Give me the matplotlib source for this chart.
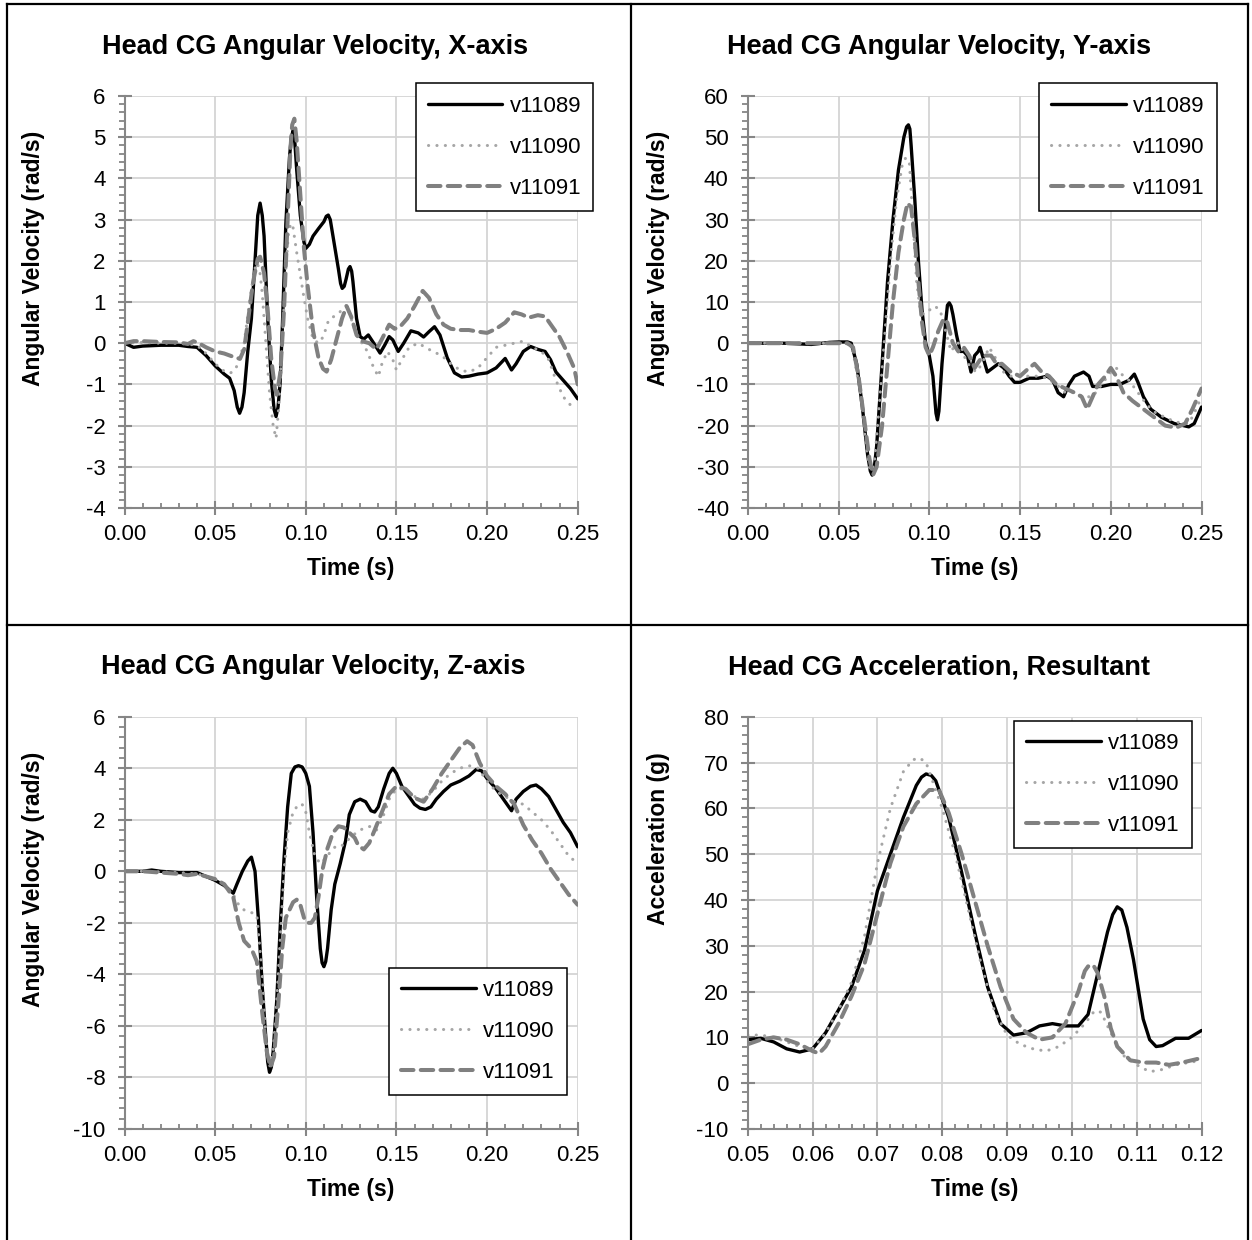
import matplotlib
matplotlib.use('Agg')
import matplotlib.pyplot as plt
from matplotlib.lines import Line2D
from matplotlib.ticker import MultipleLocator, FormatStrFormatter

plt.rcParams['font.family'] = ['Liberation Sans', 'DejaVu Sans']

# ---- data (time s, value) ----
x_v11089 = [(0, 0), (0.005, -0.1), (0.01, -0.07), (0.02, -0.05), (0.03, -0.05), (0.035, -0.08), (0.04, -0.1),
            (0.045, -0.3), (0.05, -0.55), (0.055, -0.75), (0.058, -0.85), (0.0605, -1.15), (0.0622, -1.55),
            (0.0635, -1.7), (0.0648, -1.55), (0.066, -1.2), (0.068, -0.2), (0.070, 0.6), (0.072, 2.0),
            (0.0735, 3.1), (0.0748, 3.4), (0.076, 3.1), (0.077, 2.6), (0.079, 0.6), (0.081, -0.9),
            (0.0825, -1.6), (0.0836, -1.78), (0.0847, -1.55), (0.0858, -1.0), (0.087, 0.3), (0.089, 2.9),
            (0.091, 4.5), (0.092, 5.0), (0.0931, 5.17), (0.094, 4.85), (0.095, 4.2), (0.097, 3.1), (0.099, 2.45),
            (0.1, 2.3), (0.102, 2.4), (0.104, 2.6), (0.107, 2.78), (0.110, 2.95), (0.1113, 3.08), (0.1124, 3.11),
            (0.1135, 3.0), (0.115, 2.6), (0.118, 1.8), (0.1192, 1.45), (0.1201, 1.33), (0.1212, 1.38),
            (0.1222, 1.55), (0.1235, 1.8), (0.1244, 1.86), (0.1253, 1.75), (0.126, 1.5), (0.128, 0.6),
            (0.130, 0.16), (0.132, 0.1), (0.1345, 0.2), (0.1375, 0.0), (0.141, -0.24), (0.1435, -0.05),
            (0.146, 0.16), (0.148, 0.08), (0.151, -0.2), (0.154, 0.0), (0.158, 0.3), (0.162, 0.25), (0.165, 0.15),
            (0.168, 0.28), (0.171, 0.4), (0.174, 0.2), (0.178, -0.35), (0.182, -0.72), (0.186, -0.82),
            (0.190, -0.8), (0.195, -0.75), (0.200, -0.72), (0.205, -0.6), (0.210, -0.37), (0.2135, -0.65),
            (0.216, -0.5), (0.220, -0.2), (0.224, -0.08), (0.228, -0.15), (0.232, -0.2), (0.235, -0.4),
            (0.238, -0.7), (0.242, -0.9), (0.246, -1.1), (0.250, -1.35)]
x_v11090 = [(0, 0), (0.01, 0.02), (0.02, 0.0), (0.03, 0.0), (0.04, -0.05), (0.045, -0.25), (0.05, -0.5),
            (0.055, -0.68), (0.0582, -0.73), (0.061, -0.65), (0.063, -0.45), (0.066, 0.0), (0.069, 1.0),
            (0.0715, 1.75), (0.073, 1.95), (0.0745, 1.8), (0.076, 1.2), (0.078, 0.0), (0.08, -1.2), (0.082, -2.0),
            (0.0836, -2.31), (0.085, -1.6), (0.087, 0.0), (0.089, 1.8), (0.0905, 2.7), (0.0918, 2.91),
            (0.093, 2.8), (0.095, 2.2), (0.0986, 1.21), (0.101, 0.6), (0.104, 0.1), (0.107, 0.0), (0.1097, 0.16),
            (0.1125, 0.55), (0.1152, 0.64), (0.118, 0.72), (0.1226, 0.93), (0.125, 0.6), (0.128, 0.2),
            (0.131, 0.0), (0.134, -0.2), (0.1365, -0.5), (0.14, -0.81), (0.142, -0.5), (0.145, -0.2),
            (0.148, -0.4), (0.15, -0.65), (0.153, -0.4), (0.157, -0.1), (0.162, 0.0), (0.166, -0.1), (0.17, -0.2),
            (0.175, -0.3), (0.18, -0.5), (0.185, -0.65), (0.19, -0.7), (0.195, -0.6), (0.2, -0.35), (0.205, -0.1),
            (0.21, -0.05), (0.215, 0.0), (0.22, 0.05), (0.225, -0.1), (0.23, -0.2), (0.234, -0.4), (0.238, -0.9),
            (0.242, -1.3), (0.246, -1.5), (0.25, -1.45)]
x_v11091 = [(0, 0), (0.005, 0.05), (0.01, 0.05), (0.02, 0.03), (0.03, 0.02), (0.035, -0.02), (0.038, 0.05),
            (0.041, 0.0), (0.045, -0.1), (0.05, -0.2), (0.055, -0.25), (0.06, -0.33), (0.0637, -0.38),
            (0.066, -0.15), (0.068, 0.5), (0.071, 1.5), (0.0735, 2.05), (0.0748, 2.1), (0.077, 1.7), (0.079, 0.8),
            (0.081, -0.4), (0.083, -1.1), (0.084, -1.25), (0.086, -0.7), (0.088, 0.8), (0.090, 3.0),
            (0.0915, 4.7), (0.0925, 5.3), (0.0937, 5.45), (0.095, 4.9), (0.097, 3.6), (0.099, 2.3), (0.101, 1.4),
            (0.104, 0.3), (0.107, -0.35), (0.1095, -0.62), (0.1115, -0.69), (0.114, -0.4), (0.117, 0.1),
            (0.12, 0.6), (0.1225, 0.9), (0.125, 0.65), (0.128, 0.2), (0.131, 0.05), (0.135, 0.0), (0.139, -0.15),
            (0.142, 0.1), (0.146, 0.45), (0.149, 0.35), (0.152, 0.4), (0.156, 0.6), (0.16, 0.9), (0.1645, 1.27),
            (0.168, 1.1), (0.172, 0.7), (0.176, 0.45), (0.18, 0.35), (0.185, 0.32), (0.19, 0.32), (0.195, 0.28),
            (0.2, 0.25), (0.205, 0.35), (0.21, 0.5), (0.215, 0.75), (0.219, 0.7), (0.223, 0.62), (0.228, 0.68),
            (0.232, 0.65), (0.236, 0.4), (0.24, 0.15), (0.244, -0.2), (0.248, -0.6), (0.25, -1.0)]

y_v11089 = [(0, 0), (0.02, 0), (0.035, -0.3), (0.045, 0.2), (0.05, 0.3), (0.055, 0.3), (0.057, 0), (0.06, -5),
            (0.063, -15), (0.066, -27), (0.0675, -31), (0.0685, -32), (0.0695, -31), (0.071, -25), (0.074, -5),
            (0.077, 15), (0.08, 30), (0.083, 42), (0.086, 50), (0.0875, 52.5), (0.0885, 53), (0.0893, 52),
            (0.09, 48), (0.092, 35), (0.094, 20), (0.096, 8), (0.098, 0), (0.1, -3), (0.102, -8), (0.1037, -17),
            (0.1045, -18.6), (0.1053, -16.5), (0.107, -5), (0.109, 5), (0.110, 9.2), (0.111, 9.8), (0.112, 9.0),
            (0.113, 7), (0.115, 2), (0.117, -2), (0.119, -2), (0.121, -3), (0.123, -7), (0.125, -3), (0.127, -2),
            (0.128, -1), (0.13, -4), (0.132, -7), (0.135, -6), (0.138, -5), (0.141, -6), (0.144, -8),
            (0.147, -9.5), (0.15, -9.5), (0.155, -8.5), (0.16, -8.5), (0.165, -8), (0.168, -9), (0.171, -12),
            (0.174, -13), (0.177, -10), (0.18, -8), (0.185, -7), (0.188, -8), (0.19, -10.5), (0.195, -10.5),
            (0.2, -10), (0.205, -10), (0.21, -9), (0.213, -7.5), (0.215, -9.5), (0.218, -13), (0.222, -16),
            (0.228, -18), (0.235, -19.5), (0.243, -20.3), (0.246, -19.5), (0.25, -15.5)]
y_v11090 = [(0, 0), (0.055, 0), (0.058, -2), (0.062, -12), (0.065, -24), (0.0665, -29), (0.0675, -31),
            (0.0688, -30.5), (0.07, -28), (0.073, -12), (0.076, 5), (0.079, 22), (0.082, 35), (0.085, 43),
            (0.087, 45), (0.089, 44), (0.091, 30), (0.093, 15), (0.095, 8), (0.097, 7), (0.1, 8), (0.103, 9),
            (0.106, 8), (0.109, 3), (0.112, -2), (0.115, 0), (0.117, 0), (0.12, -4), (0.123, -6), (0.126, -7),
            (0.129, -5), (0.133, -1), (0.137, -4), (0.141, -7), (0.145, -8), (0.15, -8), (0.155, -8), (0.16, -8),
            (0.165, -8.5), (0.17, -10), (0.175, -12), (0.18, -12), (0.185, -13), (0.19, -13), (0.195, -10),
            (0.2, -7), (0.203, -6), (0.207, -8), (0.21, -9), (0.215, -12), (0.22, -15), (0.225, -17), (0.23, -18),
            (0.235, -19), (0.24, -19.5), (0.243, -19.5), (0.246, -17), (0.25, -13)]
y_v11091 = [(0, 0), (0.055, 0), (0.058, -1), (0.061, -8), (0.064, -18), (0.067, -28), (0.069, -32),
            (0.071, -30), (0.074, -20), (0.077, -5), (0.08, 10), (0.083, 22), (0.086, 30), (0.088, 34),
            (0.09, 33), (0.092, 25), (0.094, 15), (0.096, 5), (0.098, -1), (0.1, -3), (0.102, -1), (0.105, 3),
            (0.108, 6), (0.11, 5), (0.113, 0), (0.116, -2), (0.119, -1), (0.122, -3), (0.125, -6), (0.128, -4),
            (0.131, -3), (0.134, -3), (0.137, -5), (0.14, -5), (0.145, -7), (0.15, -8), (0.155, -6), (0.158, -5),
            (0.162, -7), (0.166, -8), (0.17, -10), (0.175, -11), (0.18, -12), (0.184, -13), (0.187, -16),
            (0.19, -13), (0.193, -10), (0.197, -8), (0.2, -6), (0.203, -8), (0.207, -12), (0.212, -14),
            (0.218, -16), (0.224, -18), (0.23, -20), (0.236, -20.5), (0.241, -19.5), (0.245, -16), (0.248, -13),
            (0.25, -11)]

z_v11089 = [(0, 0), (0.01, 0.0), (0.015, 0.05), (0.02, 0.0), (0.03, -0.05), (0.04, -0.05), (0.045, -0.2),
            (0.05, -0.35), (0.055, -0.55), (0.06, -0.85), (0.062, -0.5), (0.065, 0.0), (0.068, 0.4), (0.07, 0.55),
            (0.072, 0.0), (0.074, -2.0), (0.076, -4.5), (0.078, -6.5), (0.079, -7.4), (0.08, -7.8), (0.081, -7.6),
            (0.082, -7.0), (0.084, -5.0), (0.086, -2.0), (0.088, 0.5), (0.09, 2.5), (0.092, 3.8), (0.094, 4.05),
            (0.096, 4.1), (0.098, 4.05), (0.1, 3.8), (0.102, 3.3), (0.104, 1.5), (0.106, -1.0), (0.108, -3.0),
            (0.109, -3.55), (0.11, -3.7), (0.111, -3.5), (0.112, -3.0), (0.114, -1.5), (0.116, -0.5), (0.119, 0.3),
            (0.122, 1.2), (0.124, 2.2), (0.127, 2.7), (0.13, 2.8), (0.133, 2.7), (0.136, 2.35), (0.138, 2.3),
            (0.14, 2.5), (0.143, 3.2), (0.146, 3.8), (0.148, 4.0), (0.15, 3.8), (0.153, 3.3), (0.157, 2.9),
            (0.16, 2.6), (0.163, 2.45), (0.166, 2.4), (0.169, 2.5), (0.172, 2.8), (0.176, 3.1), (0.18, 3.35),
            (0.185, 3.5), (0.19, 3.7), (0.194, 3.95), (0.197, 3.9), (0.2, 3.6), (0.205, 3.2), (0.21, 2.7),
            (0.2135, 2.35), (0.216, 2.8), (0.22, 3.1), (0.224, 3.3), (0.227, 3.35), (0.23, 3.2), (0.234, 2.9),
            (0.238, 2.4), (0.242, 1.9), (0.246, 1.5), (0.25, 0.95)]
z_v11090 = [(0, 0), (0.01, 0), (0.02, -0.02), (0.03, -0.05), (0.04, -0.1), (0.05, -0.3), (0.055, -0.5),
            (0.06, -0.9), (0.063, -1.3), (0.066, -1.5), (0.07, -1.6), (0.073, -1.7), (0.076, -4.0), (0.078, -6.5),
            (0.08, -7.6), (0.082, -7.0), (0.084, -5.0), (0.086, -2.5), (0.088, 0.0), (0.09, 1.5), (0.093, 2.3),
            (0.096, 2.6), (0.098, 2.6), (0.1, 2.3), (0.102, 1.5), (0.105, 0.6), (0.108, 0.3), (0.111, 0.5),
            (0.114, 0.8), (0.117, 1.0), (0.12, 1.0), (0.123, 1.2), (0.126, 1.4), (0.13, 1.6), (0.133, 1.7),
            (0.136, 1.75), (0.139, 1.6), (0.142, 2.0), (0.146, 2.8), (0.15, 3.2), (0.155, 3.2), (0.16, 2.9),
            (0.165, 2.8), (0.17, 3.1), (0.175, 3.5), (0.18, 3.8), (0.185, 4.0), (0.19, 4.1), (0.195, 4.0),
            (0.2, 3.5), (0.205, 3.1), (0.21, 2.9), (0.215, 2.7), (0.22, 2.6), (0.225, 2.3), (0.23, 2.0),
            (0.235, 1.6), (0.24, 1.1), (0.245, 0.6), (0.25, 0.3)]
z_v11091 = [(0, 0), (0.01, 0), (0.02, -0.05), (0.03, -0.1), (0.035, -0.15), (0.04, -0.1), (0.045, -0.2),
            (0.05, -0.3), (0.055, -0.5), (0.06, -1.0), (0.063, -2.0), (0.066, -2.7), (0.07, -3.0), (0.073, -3.5),
            (0.076, -5.5), (0.0785, -7.0), (0.0805, -7.6), (0.0825, -7.2), (0.085, -5.0), (0.087, -3.0),
            (0.089, -1.8), (0.091, -1.5), (0.093, -1.2), (0.095, -1.1), (0.097, -1.3), (0.099, -1.8), (0.101, -2.0),
            (0.103, -2.0), (0.105, -1.8), (0.107, -1.0), (0.109, 0.0), (0.112, 0.9), (0.115, 1.5), (0.118, 1.75),
            (0.121, 1.7), (0.124, 1.5), (0.127, 1.3), (0.129, 1.0), (0.132, 0.85), (0.135, 1.1), (0.138, 1.6),
            (0.142, 2.3), (0.146, 3.0), (0.15, 3.3), (0.155, 3.2), (0.16, 2.85), (0.165, 2.7), (0.17, 3.2),
            (0.175, 3.8), (0.18, 4.3), (0.185, 4.8), (0.189, 5.05), (0.192, 4.9), (0.196, 4.2), (0.2, 3.7),
            (0.205, 3.3), (0.21, 3.0), (0.215, 2.6), (0.22, 1.8), (0.225, 1.2), (0.23, 0.7), (0.235, 0.1),
            (0.24, -0.4), (0.245, -0.9), (0.25, -1.3)]

acc_v11089 = [(0.05, 9.5), (0.052, 9.8), (0.054, 9.0), (0.056, 7.5), (0.058, 6.8), (0.06, 7.5), (0.062, 11),
              (0.064, 16), (0.066, 21), (0.068, 29), (0.07, 42), (0.072, 50), (0.074, 58), (0.076, 65),
              (0.0768, 66.8), (0.0775, 67.5), (0.0783, 67.2), (0.079, 66), (0.081, 58), (0.083, 46), (0.085, 33),
              (0.087, 21), (0.089, 13), (0.091, 10.5), (0.093, 11), (0.095, 12.5), (0.097, 13), (0.099, 12.5),
              (0.101, 12.5), (0.1025, 15), (0.104, 24), (0.1055, 33), (0.1063, 36.8), (0.107, 38.5),
              (0.1077, 37.8), (0.1085, 34), (0.1095, 27), (0.111, 14), (0.112, 9.5), (0.113, 8), (0.114, 8.2),
              (0.115, 9), (0.116, 9.8), (0.118, 9.8), (0.12, 11.5)]
acc_v11090 = [(0.05, 10.5), (0.052, 10.5), (0.054, 10), (0.056, 9), (0.058, 8), (0.06, 7.5), (0.062, 11),
              (0.064, 16), (0.066, 22), (0.068, 32), (0.07, 48), (0.072, 60), (0.074, 68), (0.0755, 70.6),
              (0.0765, 71), (0.0775, 70), (0.078, 68), (0.08, 60), (0.082, 50), (0.084, 38), (0.086, 26),
              (0.088, 16), (0.09, 10.5), (0.092, 8.5), (0.094, 7.5), (0.096, 7.0), (0.098, 8), (0.1, 10),
              (0.102, 13), (0.1035, 15.8), (0.1045, 15.5), (0.106, 11), (0.108, 6), (0.11, 4), (0.112, 2.5),
              (0.114, 3), (0.116, 4), (0.118, 4.5), (0.12, 5)]
acc_v11091 = [(0.05, 8.5), (0.052, 9.5), (0.054, 10), (0.056, 9.5), (0.058, 8.5), (0.06, 7), (0.061, 6.5),
              (0.062, 8), (0.064, 13), (0.066, 19), (0.068, 26), (0.07, 37), (0.072, 48), (0.074, 56), (0.076, 61),
              (0.078, 64), (0.0795, 64), (0.081, 59), (0.083, 50), (0.085, 40), (0.087, 30), (0.089, 21),
              (0.091, 14), (0.093, 11), (0.095, 9.5), (0.097, 10), (0.099, 13), (0.101, 20), (0.102, 24.5),
              (0.1025, 25.5), (0.1033, 25.8), (0.104, 24), (0.105, 19), (0.106, 12), (0.107, 8), (0.109, 5),
              (0.111, 4.5), (0.113, 4.5), (0.115, 4), (0.117, 4.5), (0.12, 5.5)]

labels = ['v11089', 'v11090', 'v11091']
titles = ['Head CG Angular Velocity, X-axis', 'Head CG Angular Velocity, Y-axis',
          'Head CG Angular Velocity, Z-axis', 'Head CG Acceleration, Resultant']
ylabels = ['Angular Velocity (rad/s)', 'Angular Velocity (rad/s)', 'Angular Velocity (rad/s)', 'Acceleration (g)']

W, H = 1252, 1240
fig = plt.figure(figsize=(W / 100, H / 100), dpi=100)

styles = [
    dict(color='black', lw=2.4, solid_joinstyle='round', solid_capstyle='round'),
    dict(color='#a6a6a6', lw=2.2, dashes=(0.05, 2.7), dash_capstyle='round', dash_joinstyle='round'),
    dict(color='#808080', lw=2.9, dashes=(3.1, 1.8), dash_capstyle='round', dash_joinstyle='round'),
]


def add_ax(left, top, right, bottom):
    return fig.add_axes([left / W, 1 - bottom / H, (right - left) / W, (bottom - top) / H])


def setup(ax, xlim, ylim, xmaj, xmin, ymaj, ymin):
    ax.set_xlim(*xlim)
    ax.set_ylim(*ylim)
    ax.xaxis.set_major_locator(MultipleLocator(xmaj))
    ax.xaxis.set_minor_locator(MultipleLocator(xmin))
    ax.yaxis.set_major_locator(MultipleLocator(ymaj))
    ax.yaxis.set_minor_locator(MultipleLocator(ymin))
    ax.xaxis.set_major_formatter(FormatStrFormatter('%.2f'))
    ax.yaxis.set_major_formatter(FormatStrFormatter('%d'))
    for s in ['top', 'right']:
        ax.spines[s].set_visible(False)
    for s in ['left', 'bottom']:
        ax.spines[s].set_color('#868686')
        ax.spines[s].set_linewidth(1.5)
    ax.grid(True, which='major', color='#d4d4d4', lw=1.3)
    ax.set_axisbelow(True)
    ax.tick_params(which='major', direction='inout', length=9.5, width=1.5, color='#868686', labelsize=16)
    ax.tick_params(axis='y', which='major', pad=9)
    ax.tick_params(axis='x', which='major', pad=7)
    ax.tick_params(axis='y', which='minor', direction='out', length=4, width=1.3, color='#868686')
    ax.tick_params(axis='x', which='minor', direction='in', length=3.8, width=1.3, color='#868686')


panels = [
    # series, axes box (px: left, top, right, bottom), xlim, ylim, tick steps, legend upper-left (px)
    ([x_v11089, x_v11090, x_v11091], (124.5, 96, 577.7, 508), (0, 0.25), (-4, 6), (0.05, 0.01, 1, 0.2), (415.7, 83.3)),
    ([y_v11089, y_v11090, y_v11091], (747.8, 96, 1201.5, 508), (0, 0.25), (-40, 60), (0.05, 0.01, 10, 2), (1039, 83.3)),
    ([z_v11089, z_v11090, z_v11091], (124.5, 716.7, 577.7, 1129), (0, 0.25), (-10, 6), (0.05, 0.01, 2, 0.4), (389, 968)),
    ([acc_v11089, acc_v11090, acc_v11091], (747.8, 716.7, 1201.5, 1129), (0.05, 0.12), (-10, 80), (0.01, 0.002, 10, 2), (1014, 721)),
]
title_pos = [(315, 47.5), (939, 47.5), (313, 667), (939, 667)]
ylab_pos = [(34, 131), (658, 131), (34, 752), (658, 752)]

for i, (series, box, xl, yl, tk, leg) in enumerate(panels):
    ax = add_ax(*box)
    setup(ax, xl, yl, *tk)
    for data, lab, st in zip(series, labels, styles):
        t = [p[0] for p in data]
        v = [p[1] for p in data]
        ax.plot(t, v, label=lab, **st)
    lg = ax.legend(loc='upper left', bbox_to_anchor=(leg[0] / W, 1 - leg[1] / H),
                   bbox_transform=fig.transFigure, borderaxespad=0, fontsize=16,
                   handlelength=3.35, handletextpad=0.32, borderpad=0.55, labelspacing=0.9,
                   fancybox=False, framealpha=1, edgecolor='black')
    lg.get_frame().set_linewidth(1.1)

    # x label centred ~473 px below the top of the plot area
    ax.set_xlabel('Time (s)', fontsize=16.5, fontweight='bold', va='center')
    ax.xaxis.set_label_coords(0.5, -(box[1] + 473 - box[3]) / (box[3] - box[1]))

    tx, ty = title_pos[i]
    fig.text(tx / W, 1 - ty / H, titles[i], ha='center', va='center', fontsize=19.5, fontweight='bold')
    lx, ly = ylab_pos[i]
    fig.text(lx / W, 1 - ly / H, ylabels[i], ha='center', va='top', rotation=90, fontsize=16.5,
             fontweight='bold')

# table borders
border = dict(color='black', lw=1.6, transform=fig.transFigure)
fig.add_artist(Line2D([7.3 / W, 1248 / W], [1 - 4.3 / H, 1 - 4.3 / H], **border))
fig.add_artist(Line2D([7.3 / W, 7.3 / W], [1 - 4.3 / H, 0], **border))
fig.add_artist(Line2D([1248 / W, 1248 / W], [1 - 4.3 / H, 0], **border))
fig.add_artist(Line2D([630.7 / W, 630.7 / W], [1 - 4.3 / H, 0], **border))
fig.add_artist(Line2D([7.3 / W, 1248 / W], [1 - 625 / H, 1 - 625 / H], **border))

fig.savefig('out.png', dpi=100)
